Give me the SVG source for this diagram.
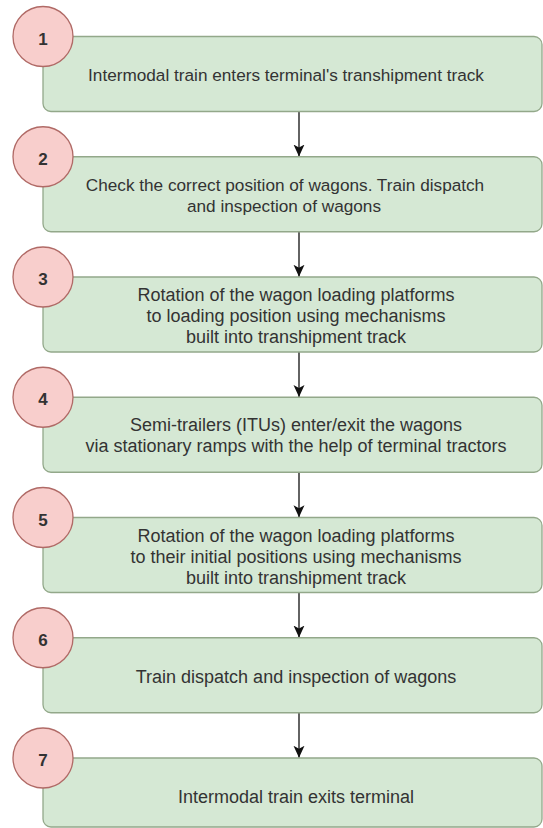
<svg xmlns="http://www.w3.org/2000/svg" width="543" height="828" viewBox="0 0 543 828">
  <style>
    .step { fill: #d5e8d4; stroke: #93a88a; stroke-width: 1.3; }
    .badge { fill: #f8cecc; stroke: #b06a66; stroke-width: 1.3; }
    .num { font-family: "Liberation Sans", Arial, sans-serif; font-size: 17px; font-weight: bold; fill: #333333; text-anchor: middle; }
    .label { font-family: "Liberation Sans", Arial, sans-serif; font-size: 18px; fill: #333333; text-anchor: middle; }
    .small { font-size: 17.2px; }
    .link { stroke: #222222; stroke-width: 1.4; fill: none; }
  </style>
  <defs>
    <marker id="arrowhead" markerWidth="12" markerHeight="12" refX="12" refY="5.5" orient="auto" markerUnits="userSpaceOnUse">
      <path d="M0,0 L12,5.5 L0,11 L3,5.5 Z" fill="#111111"/>
    </marker>
  </defs>
  <rect width="543" height="828" fill="#ffffff"/>

  <!-- connectors between consecutive steps -->
  <g id="connectors">
    <path class="link" d="M299,111.5 V156.5" marker-end="url(#arrowhead)"/>
    <path class="link" d="M299,231.75 V276.75" marker-end="url(#arrowhead)"/>
    <path class="link" d="M299,352 V397" marker-end="url(#arrowhead)"/>
    <path class="link" d="M299,472.25 V517.25" marker-end="url(#arrowhead)"/>
    <path class="link" d="M299,592.5 V637.5" marker-end="url(#arrowhead)"/>
    <path class="link" d="M299,712.75 V757.75" marker-end="url(#arrowhead)"/>
  </g>

  <g id="step1">
    <rect class="step" x="43" y="36.5" width="499" height="75" rx="8"/>
    <circle class="badge" cx="43" cy="36.5" r="30"/>
    <text class="num" x="43" y="44.5">1</text>
    <text class="label small" x="286" y="81.25">Intermodal train enters terminal's transhipment track</text>
  </g>

  <g id="step2">
    <rect class="step" x="43" y="156.75" width="499" height="75" rx="8"/>
    <circle class="badge" cx="43" cy="156.75" r="30"/>
    <text class="num" x="43" y="164.75">2</text>
    <text class="label small" x="285" y="190.5">Check the correct position of wagons. Train dispatch</text>
    <text class="label small" x="284" y="212">and inspection of wagons</text>
  </g>

  <g id="step3">
    <rect class="step" x="43" y="277" width="499" height="75" rx="8"/>
    <circle class="badge" cx="43" cy="277" r="30"/>
    <text class="num" x="43" y="285">3</text>
    <text class="label" x="296" y="301">Rotation of the wagon loading platforms</text>
    <text class="label" x="296" y="322">to loading position using mechanisms</text>
    <text class="label" x="296" y="343">built into transhipment track</text>
  </g>

  <g id="step4">
    <rect class="step" x="43" y="397.25" width="499" height="75" rx="8"/>
    <circle class="badge" cx="43" cy="397.25" r="30"/>
    <text class="num" x="43" y="405.25">4</text>
    <text class="label" x="296" y="431">Semi-trailers (ITUs) enter/exit the wagons</text>
    <text class="label" x="296" y="452.3">via stationary ramps with the help of terminal tractors</text>
  </g>

  <g id="step5">
    <rect class="step" x="43" y="517.5" width="499" height="75" rx="8"/>
    <circle class="badge" cx="43" cy="517.5" r="30"/>
    <text class="num" x="43" y="525.5">5</text>
    <text class="label" x="296" y="541.5">Rotation of the wagon loading platforms</text>
    <text class="label" x="296" y="562.5">to their initial positions using mechanisms</text>
    <text class="label" x="296" y="583.5">built into transhipment track</text>
  </g>

  <g id="step6">
    <rect class="step" x="43" y="637.75" width="499" height="75" rx="8"/>
    <circle class="badge" cx="43" cy="637.75" r="30"/>
    <text class="num" x="43" y="645.75">6</text>
    <text class="label" x="296" y="682.5">Train dispatch and inspection of wagons</text>
  </g>

  <g id="step7">
    <rect class="step" x="43" y="758" width="499" height="69" rx="8"/>
    <circle class="badge" cx="43" cy="758" r="30"/>
    <text class="num" x="43" y="766">7</text>
    <text class="label" x="296" y="802.75">Intermodal train exits terminal</text>
  </g>
</svg>
